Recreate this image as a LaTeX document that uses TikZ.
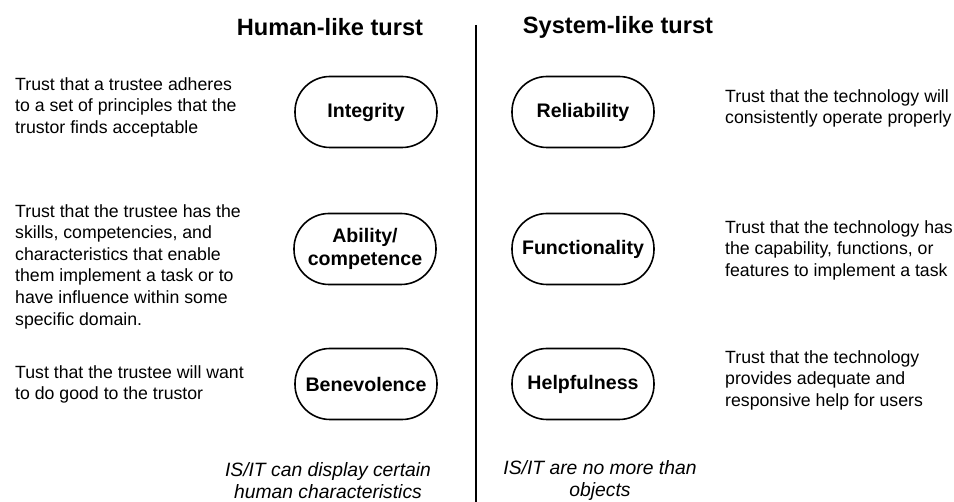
\documentclass[tikz,border=0pt]{standalone}
\usepackage{fontspec}
\setmainfont{Liberation Sans}
\begin{document}
\begin{tikzpicture}[x=1pt,y=-1pt,
  pill/.style={draw, line width=1.6pt, rounded corners=35pt, minimum width=142pt, minimum height=71pt, inner sep=0pt, font=\fontsize{19.6}{23.5}\selectfont\bfseries, align=center},
  desc/.style={anchor=north west, inner sep=0pt, align=left, font=\fontsize{17.7}{21.6}\selectfont},
  title/.style={inner sep=0pt, font=\fontsize{23.6}{28}\selectfont\bfseries},
  note/.style={inner sep=0pt, align=center, font=\fontsize{19.3}{22}\selectfont\itshape}]
\useasboundingbox (0,0) rectangle (954,502);
\coordinate (vtop) at (476,25);
\coordinate (vbot) at (476,502);
\draw[line width=1.3pt] (vtop) -- (vbot);
\node[title] (th) at (330,27) {Human-like turst};
\node[title] (ts) at (618,27) {System-like turst};
\node[pill] (int) at (366,112) {Integrity};
\node[pill] (rel) at (583,112) {Reliability};
\node[pill] (abi) at (365,249) {Ability/\\competence};
\node[pill] (fun) at (583,249) {Functionality};
\node[pill] (ben) at (366,384) {Benevolence};
\node[pill] (hel) at (583,384) {Helpfulness};
\node[desc] (d1) at (15,77) {Trust that a trustee adheres\\to a set of principles that the\\trustor finds acceptable};
\node[desc] (d2) at (15,204) {Trust that the trustee has the\\skills, competencies, and\\characteristics that enable\\them implement a task or to\\have influence within some\\specific domain.};
\node[desc] (d3) at (15,365) {Tust that the trustee will want\\to do good to the trustor};
\node[desc] (r1) at (725,89) {Trust that the technology will\\consistently operate properly};
\node[desc] (r2) at (725,220) {Trust that the technology has\\the capability, functions, or\\features to implement a task};
\node[desc] (r3) at (725,350) {Trust that the technology\\provides adequate and\\responsive help for users};
\node[note] (n1) at (328,481) {IS/IT can display certain\\human characteristics};
\node[note] (n2) at (600,481) {IS/IT are no more than\\objects};
\end{tikzpicture}
\end{document}
